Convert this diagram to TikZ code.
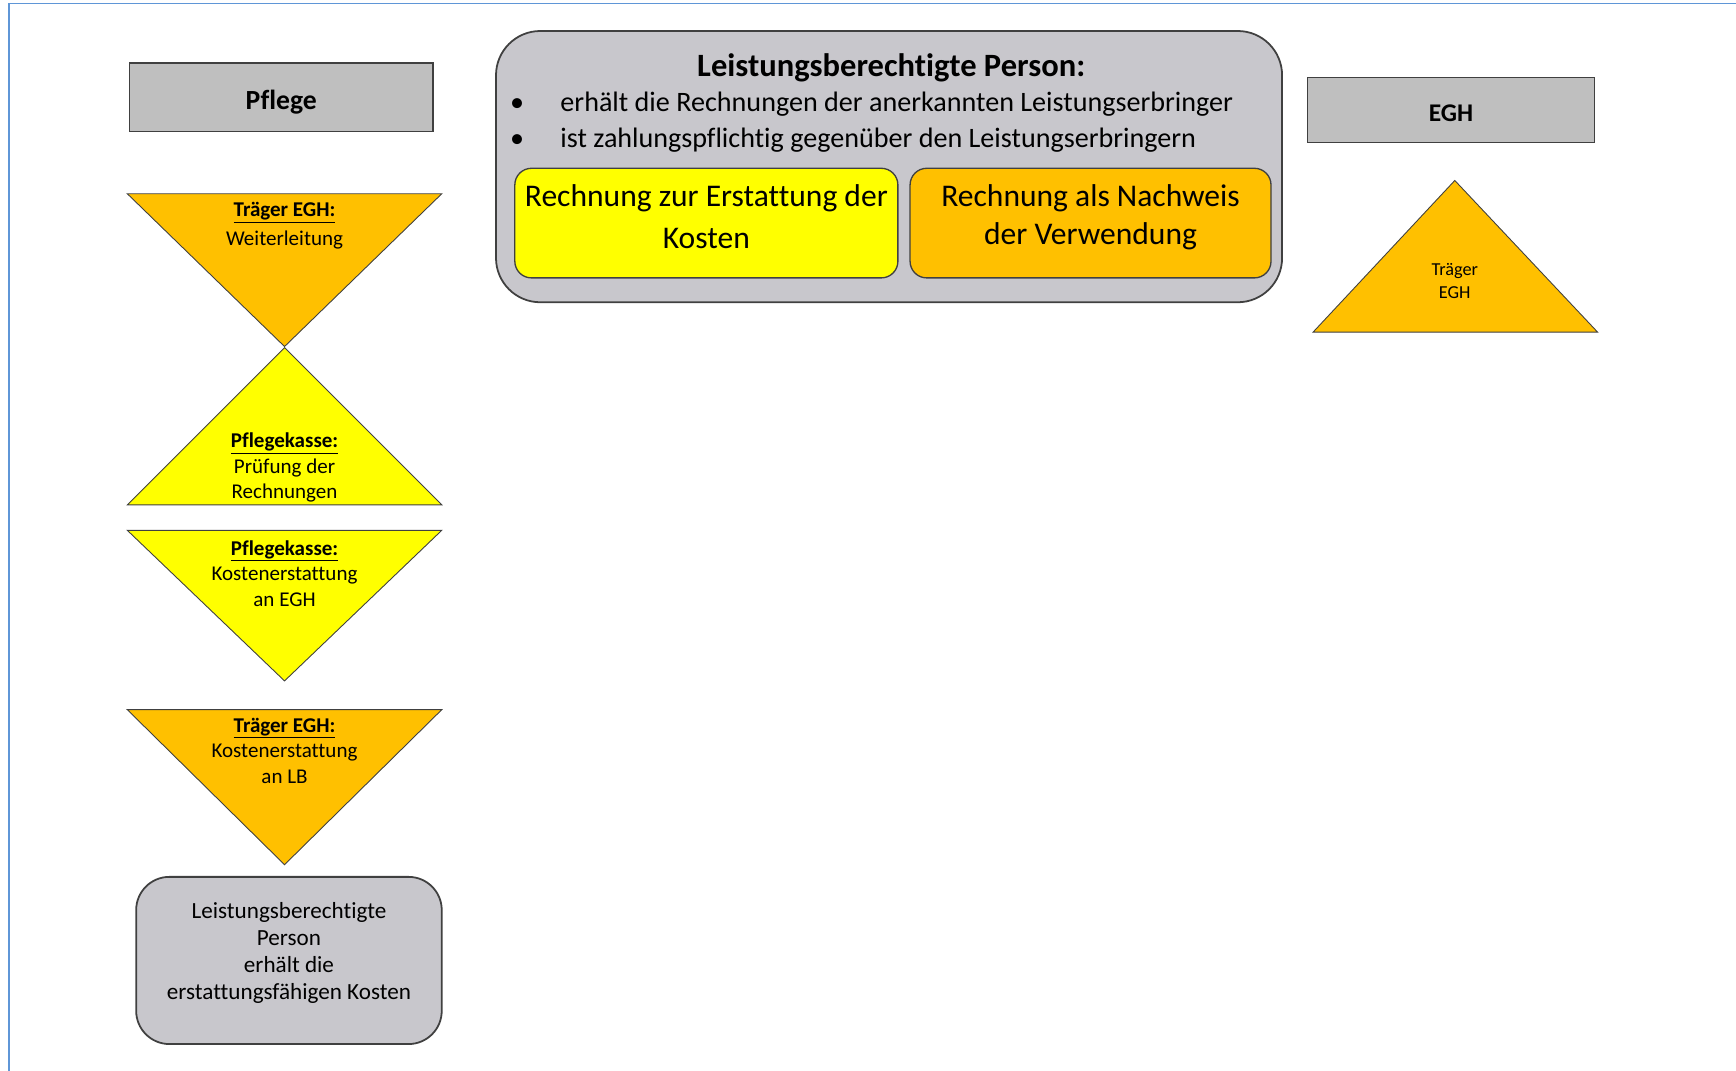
\documentclass[tikz,border=0pt]{standalone}
\usepackage{fontspec}
\setmainfont{Carlito}[Ligatures={NoCommon}]
\usetikzlibrary{positioning}

\definecolor{egh}{RGB}{255,192,0}
\definecolor{kasse}{RGB}{255,255,0}
\definecolor{kopf}{RGB}{191,191,191}
\definecolor{lbgrau}{RGB}{200,199,204}
\definecolor{rand}{RGB}{64,64,64}
\definecolor{rahmen}{RGB}{95,150,215}

\tikzset{
	kopfbox/.style={draw=rand, fill=kopf, line width=1.2pt, inner sep=0pt},
	lbbox/.style={draw=rand, fill=lbgrau, line width=1.6pt, inner sep=0pt},
	rechnung/.style={draw=rand, line width=1.2pt, rounded corners=15pt, inner sep=0pt,
		minimum width=#1, minimum height=99pt},
	rtext/.style={align=center, inner sep=0pt, font=\fontsize{28.5}{#1}\selectfont},
	dreieck/.style={draw=rand, line width=0.8pt, line join=miter},
	dtext/.style={align=center, inner sep=0pt, font=\fontsize{19}{23}\selectfont}
}

\begin{document}
\begin{tikzpicture}[x=1pt, y=-1pt]
	\useasboundingbox (0,0) rectangle (1568,967);
	\draw[rahmen, line width=1.3pt] (8,967) -- (8,3) -- (1568,3);

	% Kopfzeilen
	\node[kopfbox, minimum width=274pt, minimum height=62pt](pflege) at (254,88) {};
	\node[font=\fontsize{25}{30}\selectfont\bfseries, inner sep=0pt](pflegetext) at ([yshift=-4pt]pflege.center) {Pflege};
	\node[kopfbox, minimum width=259pt, minimum height=59pt](egh) at (1310.5,99.5) {};
	\node[font=\fontsize{23}{28}\selectfont\bfseries, inner sep=0pt](eghtext) at ([yshift=-3pt]egh.center) {EGH};

	% Leistungsberechtigte Person
	\node[lbbox, rounded corners=40pt, minimum width=710pt, minimum height=245pt](lb) at (803,150.5) {};
	\node[font=\fontsize{29.4}{34}\selectfont\bfseries, inner sep=0pt](lbtitel) at (805,61) {Leistungsberechtigte Person:};
	\node[font=\fontsize{25.4}{33}\selectfont, inner sep=0pt](p1) at (467,94.5) {\textbullet};
	\node[font=\fontsize{25.4}{33}\selectfont, inner sep=0pt](p2) at (467,127) {\textbullet};
	\node[font=\fontsize{25.4}{33}\selectfont, anchor=west, inner sep=0pt](punkt1) at (506,94.5) {erhält die Rechnungen der anerkannten Leistungserbringer};
	\node[font=\fontsize{25.4}{33}\selectfont, anchor=west, inner sep=0pt](punkt2) at (506,127) {ist zahlungspflichtig gegenüber den Leistungserbringern};
	\node[rechnung=346pt, fill=kasse](erstattung) at (638,201.5) {};
	\node[rtext=38](erstattungtext) at ([yshift=5.5pt]erstattung.center) {Rechnung zur Erstattung der\\Kosten};
	\node[rechnung=326pt, fill=egh](nachweis) at (985,201.5) {};
	\node[rtext=34.5](nachweistext) at ([yshift=5pt]nachweis.center) {Rechnung als Nachweis\\der Verwendung};

	% Ablauf Pflege
	\filldraw[dreieck, fill=egh] (115,175) -- (399,175) -- (257,313) -- cycle;
	\node[dtext](weiter) at (257,204) {\textbf{\underline{Träger EGH:}}\\[3pt]Weiterleitung};
	\filldraw[dreieck, fill=kasse] (257,314) -- (399,456) -- (115,456) -- cycle;
	\node[dtext](pruefung) at (257,422.5) {\textbf{\underline{Pflegekasse:}}\\Prüfung der\\Rechnungen};
	\filldraw[dreieck, fill=kasse] (115,479) -- (399,479) -- (257,615) -- cycle;
	\node[dtext](anegh) at (257,518) {\textbf{\underline{Pflegekasse:}}\\Kostenerstattung\\an EGH};
	\filldraw[dreieck, fill=egh] (115,641) -- (399,641) -- (257,781) -- cycle;
	\node[dtext](anlb) at (257,678) {\textbf{\underline{Träger EGH:}}\\Kostenerstattung\\an LB};
	\node[lbbox, rounded corners=30pt, minimum width=276pt, minimum height=151pt](kosten) at (261,867.5) {};
	\node[align=center, inner sep=0pt, font=\fontsize{20.9}{24.3}\selectfont](kostentext) at ([yshift=7pt]kosten.center) {Leistungsberechtigte\\Person\\erhält die\\erstattungsfähigen Kosten};

	% Ablauf EGH
	\filldraw[dreieck, fill=egh] (1314,163) -- (1443,300) -- (1186,300) -- cycle;
	\node[dtext, font=\fontsize{16.5}{21}\selectfont](traeger) at (1314,254) {Träger\\EGH};
\end{tikzpicture}
\end{document}
